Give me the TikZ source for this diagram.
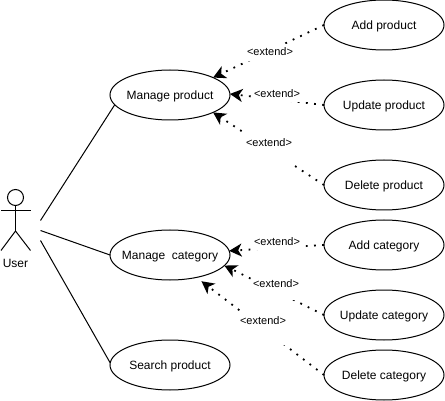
\documentclass[tikz,border=0pt]{standalone}
\usepackage{fontspec}
\setmainfont{Liberation Sans}
\usetikzlibrary{shapes.geometric,arrows.meta}
\newcommand{\uctext}[1]{\raisebox{-4.2pt}[0pt][0pt]{\makebox[0pt][c]{#1}}}
\tikzset{
  usecase/.style={draw=black,line width=1pt,ellipse,minimum width=120pt,minimum height=50pt,inner sep=0pt,outer sep=0pt,font=\fontsize{12}{14}\selectfont,fill=white},
  extendline/.style={draw=black,line width=1.8pt,dash pattern=on 1.8pt off 6.4pt,-{Stealth[length=12.5pt,width=13pt,inset=3.5pt]}},
  assoc/.style={draw=black,line width=1pt},
  extlabel/.style={fill=white,inner ysep=0pt,inner xsep=0pt,font=\fontsize{11}{13}\selectfont,anchor=base},
  actorline/.style={draw=black,line width=1pt}
}
\begin{document}
\begin{tikzpicture}[x=1pt,y=-1pt]
\useasboundingbox (0,0) rectangle (445,401);
\fill[white] (0,0) rectangle (445,401);
% use cases
\node[usecase] (mp) at (170,95) {\uctext{Manage product}};
\node[usecase] (mc) at (170,255) {\uctext{Manage\ \ category}};
\node[usecase] (sp) at (170,365) {\uctext{Search product}};
\node[usecase] (ap) at (384,25) {\uctext{Add product}};
\node[usecase] (up) at (384,105) {\uctext{Update product}};
\node[usecase] (dp) at (384,185) {\uctext{Delete product}};
\node[usecase] (ac) at (384,245) {\uctext{Add category}};
\node[usecase] (uc) at (384,315) {\uctext{Update category}};
\node[usecase] (dc) at (384,375) {\uctext{Delete category}};
% actor
\node[draw=black,line width=1pt,circle,minimum size=16pt,inner sep=0pt,outer sep=0pt] (head) at (15.5,197.5) {};
\coordinate (hip) at (15.5,231);
\coordinate (armL) at (1,210.5);
\coordinate (armR) at (30.5,210.5);
\coordinate (legL) at (1,250.5);
\coordinate (legR) at (30.5,250.5);
\draw[actorline] (head.south) -- (hip);
\draw[actorline] (armL) -- (armR);
\draw[actorline] (legL) -- (hip) -- (legR);
\node[font=\fontsize{12}{14}\selectfont,inner sep=0pt] (user) at (15.5,263.5) {User};
% associations
\coordinate (u1) at (40.5,220.5);
\coordinate (u2) at (40.5,230.5);
\coordinate (u3) at (40.5,240.5);
\draw[assoc] (u1) -- (mp.190);
\draw[assoc] (u2) -- (mc.west);
\draw[assoc] (u3) -- (sp.178);
% extends
\draw[extendline] (ap.west) -- (mp.22);
\draw[extendline] (up.west) -- (mp.1);
\draw[extendline] (dp.west) -- (mp.-22);
\draw[extendline] (ac.west) -- (mc.4);
\draw[extendline] (uc.west) -- (mc.-11);
\draw[extendline] (dc.west) -- ([xshift=4pt,yshift=-4pt]mc.-39);
% labels
\node[extlabel,text height=12pt,text depth=5pt] (l1) at (270,55.8) {<extend>};
\node[extlabel,text height=9.5pt,text depth=4pt] (l2) at (277,97.8) {<extend>};
\node[extlabel,text height=15.5pt,text depth=18pt] (l3) at (269,146.8) {<extend>};
\node[extlabel,text height=9.5pt,text depth=4pt] (l4) at (277,245.8) {<extend>};
\node[extlabel,text height=11.5pt,text depth=12.5pt] (l5) at (276,287.8) {<extend>};
\node[extlabel,text height=14.5pt,text depth=20.5pt] (l6) at (263,324.8) {<extend>};
\end{tikzpicture}
\end{document}
